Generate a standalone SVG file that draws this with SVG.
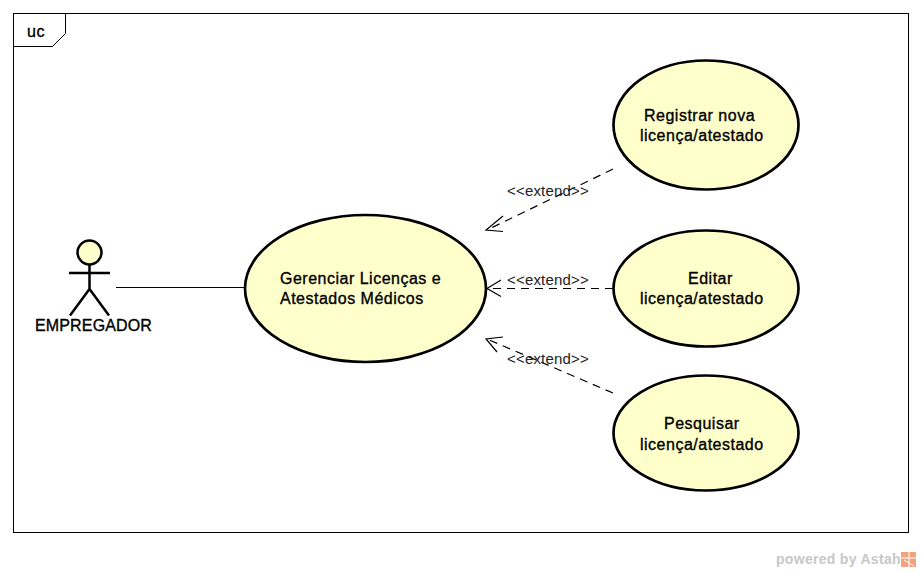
<svg xmlns="http://www.w3.org/2000/svg" width="921" height="572" viewBox="0 0 921 572">
<defs>
<style>
text{font-family:"Liberation Sans",Arial,sans-serif;fill:#000}
.uc{fill:#ffffcc;stroke:#000;stroke-width:2.700}
.t{font-size:16px;letter-spacing:0.5px;stroke:#000;stroke-width:0.35px}
.st{font-size:15px;letter-spacing:0.18px;fill:#222}
.d{fill:none;stroke:#000;stroke-width:1.2;stroke-dasharray:8 6}
.a{fill:none;stroke:#000;stroke-width:1.2}
.act{fill:none;stroke:#000;stroke-width:2.5}
</style>
</defs>
<rect width="921" height="572" fill="#fff"/>
<g id="frame">
<rect x="13.500" y="13.500" width="895" height="519" fill="none" stroke="#000" stroke-width="1"/>
<path d="M13.500 46.500H52.500L65.500 33.500V13.500" fill="none" stroke="#000" stroke-width="1"/>
<text class="t" x="27" y="37" style="letter-spacing:0.6px">uc</text>
</g>
<g id="connectors">
<line class="a" x1="116" y1="287.500" x2="244" y2="287.500"/>
<line class="d" x1="613" y1="169" x2="487" y2="230"/>
<path class="a" d="M503 216L486 230L503 231.500"/>
<line class="d" x1="613" y1="288.500" x2="487" y2="288.500"/>
<path class="a" d="M501 280L487 288.500L501 296.500"/>
<line class="d" x1="613" y1="393" x2="487" y2="339"/>
<path class="a" d="M503 337L486 339L497 352"/>
<text class="st" x="507" y="196">&lt;&lt;extend&gt;&gt;</text>
<text class="st" x="507" y="285">&lt;&lt;extend&gt;&gt;</text>
<text class="st" x="507" y="364">&lt;&lt;extend&gt;&gt;</text>
</g>
<g id="actor-empregador">
<circle cx="89.500" cy="252.500" r="12" fill="#ffffcc" stroke="#000" stroke-width="2.500"/>
<path class="act" d="M89.500 265V289M69 273H110M89.500 289L70 315.500M89.500 289L109 315.500"/>
<text class="t" x="35" y="331" style="letter-spacing:0.15px">EMPREGADOR</text>
</g>
<g id="uc-gerenciar">
<ellipse class="uc" cx="365.500" cy="288.500" rx="120.500" ry="73.500"/>
<text class="t" x="280" y="284">Gerenciar Licenças e</text>
<text class="t" x="280" y="304">Atestados Médicos</text>
</g>
<g id="uc-registrar">
<ellipse class="uc" cx="706" cy="125" rx="92.500" ry="64.500"/>
<text class="t" x="644" y="121">Registrar nova</text>
<text class="t" x="640" y="141">licença/atestado</text>
</g>
<g id="uc-editar">
<ellipse class="uc" cx="706" cy="288.500" rx="92.500" ry="58"/>
<text class="t" x="688" y="284">Editar</text>
<text class="t" x="640" y="304">licença/atestado</text>
</g>
<g id="uc-pesquisar">
<ellipse class="uc" cx="706" cy="433" rx="92.500" ry="57.500"/>
<text class="t" x="664" y="429">Pesquisar</text>
<text class="t" x="640" y="450">licença/atestado</text>
</g>
<g id="watermark">
<text x="776" y="564" font-size="14" font-weight="bold" style="fill:#c8c8c8" letter-spacing="0.3">powered by Astah</text>
<rect x="901" y="552" width="15" height="15" fill="#f2a27e"/>
<path d="M901 558H916M909 552V567M904 560L914 566" stroke="#fff" stroke-width="1" fill="none"/>
</g>
</svg>
